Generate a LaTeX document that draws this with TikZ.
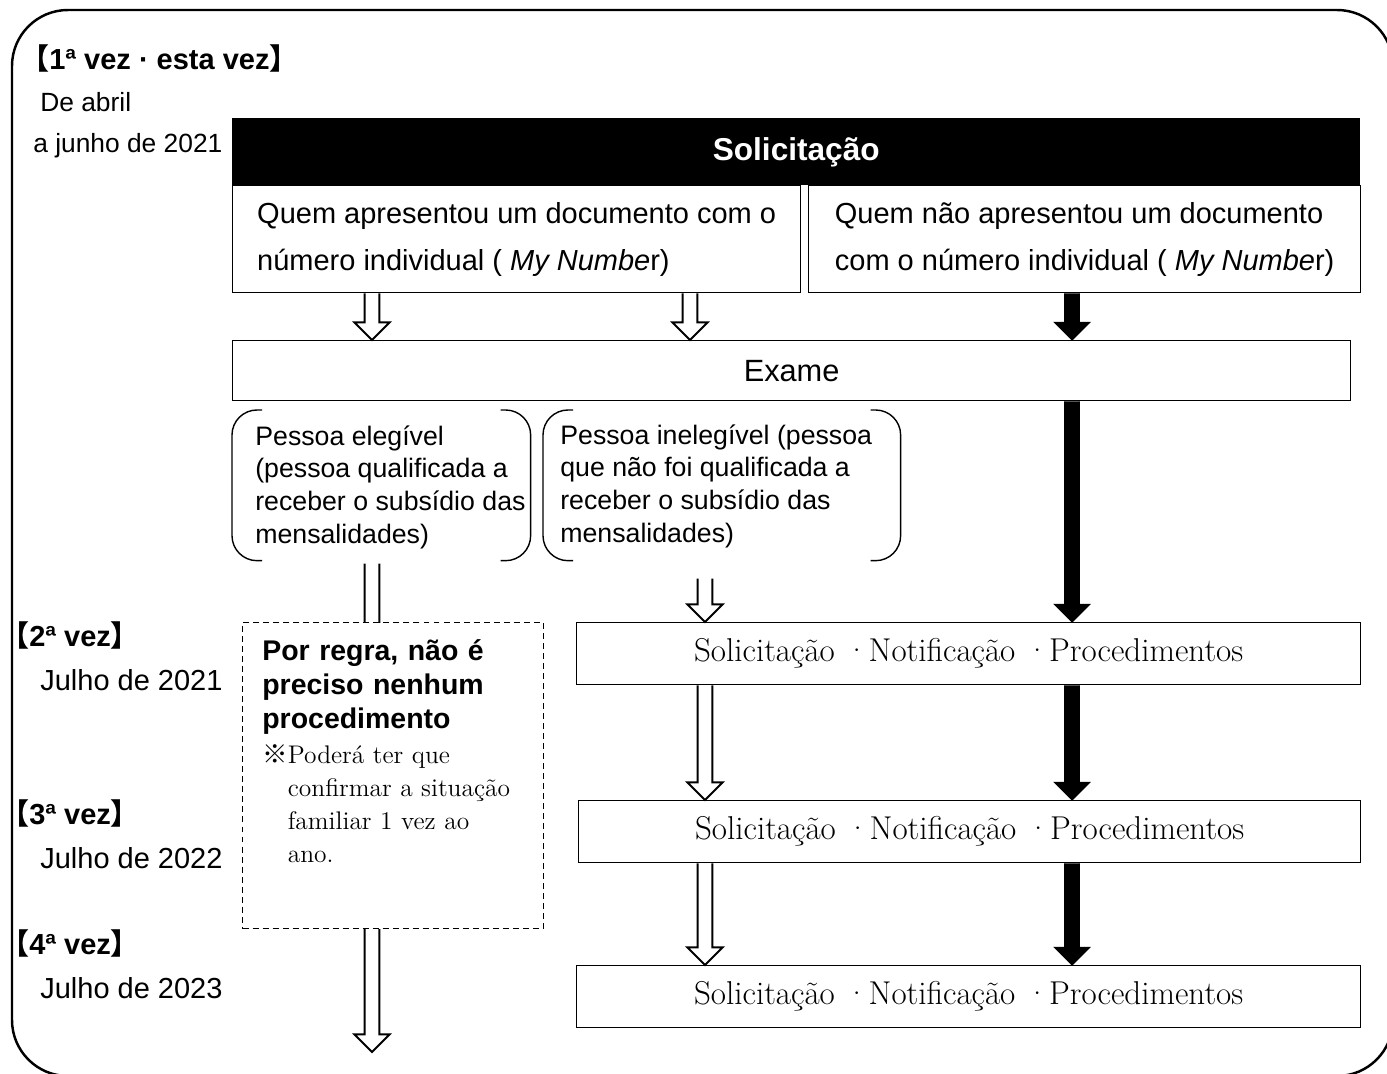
\documentclass[tikz,border=0pt]{standalone}
\usepackage{fontspec}
\setsansfont{Liberation Sans}
\newfontfamily\cjk{Noto Sans CJK JP}
\usetikzlibrary{positioning,calc}
\newcommand{\lbr}{{\cjk 【}}
\newcommand{\rbr}{{\cjk 】}}
\newcommand{\kome}{{\cjk ※}}

\begin{document}
\begin{tikzpicture}[x=0.02cm,y=-0.02cm,
  font=\sffamily\fontsize{16.5}{19}\selectfont,
  hd/.style={anchor=base west,inner sep=0pt,font=\sffamily\bfseries\fontsize{16.5}{19}\selectfont},
  lbl/.style={anchor=base west,inner sep=0pt},
  bx/.style={draw,line width=0.8pt,anchor=north west,inner sep=0pt},
  sbox/.style={bx,minimum width=15.68cm,minimum height=1.24cm,
    font=\rmfamily\fontsize{18.8}{21}\selectfont},
  brk/.style={anchor=north west,minimum height=3cm,inner sep=0pt},
  brkline/.style={line width=0.8pt,rounded corners=0.5cm},
  txt/.style={anchor=north west,align=left,inner sep=0pt,
    font=\sffamily\fontsize{15.2}{18.6}\selectfont},
  arrshape/.style={to path={let \p1=(\tikztostart),\p2=(\tikztotarget) in
    (\x1-4.2pt,\y1) -- (\x1-4.2pt,\y2+10pt) -- (\x1-10pt,\y2+10pt) -- (\x2,\y2)
    -- (\x1+10pt,\y2+10pt) -- (\x1+4.2pt,\y2+10pt) -- (\x1+4.2pt,\y1)}},
  harr/.style={arrshape,draw,line width=1.1pt},
  farr/.style={arrshape,draw,fill=black,line width=0.6pt}]
\useasboundingbox (0,0) rectangle (1387,1074);
\begin{scope}
\clip (0,0) rectangle (1387,1074);
\draw[line width=1.4pt,rounded corners=1.12cm] (12,10) rectangle (1393,1076);
\end{scope}

% left column
\node[hd] (t1st) at (20,70) {\lbr 1ª vez · esta vez\rbr};
\node[lbl,font=\sffamily\fontsize{15}{18}\selectfont] (d1a) at (40,112) {De abril};
\node[lbl,font=\sffamily\fontsize{15}{18}\selectfont] (d1b) at (33,153) {a junho de 2021};
\node[hd] (t2nd) at (0,646) {\lbr 2ª vez\rbr};
\node[lbl] (d2) at (40,690) {Julho de 2021};
\node[hd] (t3rd) at (0,824) {\lbr 3ª vez\rbr};
\node[lbl] (d3) at (40,868) {Julho de 2022};
\node[hd] (t4th) at (0,954) {\lbr 4ª vez\rbr};
\node[lbl] (d4) at (40,998) {Julho de 2023};

% application
\node[anchor=north west,fill=black,text=white,minimum width=22.56cm,minimum height=1.34cm,
  font=\sffamily\bfseries\fontsize{18}{20}\selectfont] (sol) at (232,118) {Solicitação};
\node[bx,minimum width=11.36cm,minimum height=2.14cm,align=left,
  font=\sffamily\fontsize{16.5}{26.7}\selectfont] (boxA) at (232,185)
  {Quem apresentou um documento com o\\número individual ( \textit{My Numbe}r)};
\node[bx,minimum width=11.04cm,minimum height=2.14cm,align=left,
  font=\sffamily\fontsize{16.5}{26.7}\selectfont] (boxB) at (808,185)
  {Quem não apresentou um documento\\com o número individual ( \textit{My Numbe}r)};
\node[bx,minimum width=22.36cm,minimum height=1.2cm,
  font=\sffamily\fontsize{17.5}{20}\selectfont] (exam) at (232,340) {Exame};

% results
\node[brk,minimum width=5.96cm] (b1) at (232,410) {};
\node[brk,minimum width=7.14cm] (b2) at (543,410) {};
\foreach \b in {b1,b2} {
  \draw[brkline] ($(\b.north west)+(30,0)$) -- (\b.north west) -- (\b.south west) -- ($(\b.south west)+(30,0)$);
  \draw[brkline] ($(\b.north east)+(-30,0)$) -- (\b.north east) -- (\b.south east) -- ($(\b.south east)+(-30,0)$);
}
\node[txt] (t1) at (255,425) {Pessoa elegível\\(pessoa qualificada a\\receber o subsídio das\\mensalidades)};
\node[txt] (t2) at (560,424) {Pessoa inelegível (pessoa\\que não foi qualificada a\\receber o subsídio das\\mensalidades)};

\node[sbox] (s1) at (576,622) {Solicitação ·Notificação ·Procedimentos};
\node[sbox,minimum width=15.64cm] (s2) at (578,800) {Solicitação ·Notificação ·Procedimentos};
\node[sbox] (s3) at (576,965) {Solicitação ·Notificação ·Procedimentos};

% arrows
\coordinate (cl) at (372,0);
\coordinate (ca) at (690,0);
\coordinate (cm) at (705,0);
\coordinate (cr) at (1072,0);
\coordinate (lend) at (372,1052);
\draw[harr] (boxA.south -| cl) to (exam.north -| cl);
\draw[harr] (boxA.south -| ca) to (exam.north -| ca);
\draw[farr] (boxB.south -| cr) to (exam.north -| cr);
\draw[farr] (exam.south -| cr) to (s1.north -| cr);
\draw[farr] (s1.south -| cr) to (s2.north -| cr);
\draw[farr] (s2.south -| cr) to (s3.north -| cr);
\draw[harr] ($(b2.south -| cm)+(0,18)$) to (s1.north -| cm);
\draw[harr] (s1.south -| cm) to (s2.north -| cm);
\draw[harr] (s2.south -| cm) to (s3.north -| cm);
\draw[harr] ($(b1.south -| cl)+(0,3)$) to (lend);

% no procedure
\node[bx,fill=white,dash pattern=on 3.4pt off 2.3pt,minimum width=6.02cm,minimum height=6.12cm] (rule) at (242,622) {};
\node[txt,text width=5.6cm,font=\sffamily\bfseries\fontsize{16.2}{19.4}\selectfont] (rn1) at (262,639)
  {Por regra, não é\\preciso nenhum\\procedimento};
\node[txt,text width=5.6cm,font=\rmfamily\fontsize{14.5}{18.8}\selectfont,below right=0.2cm and 0cm of rn1.south west] (rn2)
  {\kome Poderá ter que\\\phantom{\kome}confirmar a situação\\\phantom{\kome}familiar 1 vez ao\\\phantom{\kome}ano.};
\end{tikzpicture}
\end{document}
